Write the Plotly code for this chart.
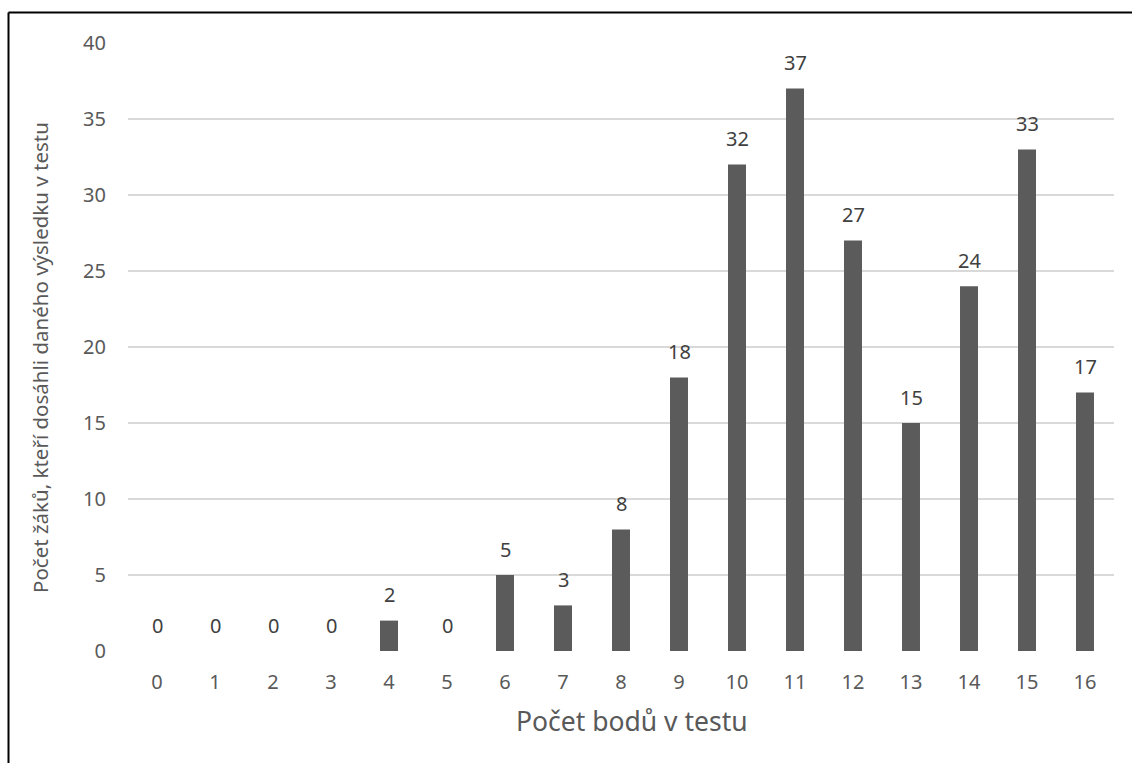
import plotly.graph_objects as go

# Score distribution: number of pupils for each test score
scores = list(range(17))
pupils = [0, 0, 0, 0, 2, 0, 5, 3, 8, 18, 32, 37, 27, 15, 24, 33, 17]
y_ticks = [0, 5, 10, 15, 20, 25, 30, 35, 40]

x_title = "Počet bodů v testu"
y_title = "Počet žáků, kteří dosáhli daného výsledku v testu"

W, H = 1132, 763
L, R, T, B = 128, 18, 43, 112

FONT = "Noto Sans"
TICK_COLOR = "#595959"
LABEL_COLOR = "#404040"

fig = go.Figure(
    go.Bar(
        x=scores,
        y=pupils,
        width=0.31,
        marker=dict(color="#5b5b5b", line=dict(width=0)),
        hoverinfo="x+y",
    )
)

# value labels above each bar
for s, v in zip(scores, pupils):
    fig.add_annotation(
        x=s, y=v, text=str(v), showarrow=False,
        yanchor="middle", yshift=26,
        font=dict(family=FONT, size=20, color=LABEL_COLOR),
    )


# helpers converting canvas pixels to paper coordinates
def px_x(p):
    return (p - L) / (W - L - R)


def px_y(p):
    return 1 - (p - T) / (H - T - B)


# axis titles, placed relative to the whole chart area
fig.add_annotation(
    xref="paper", yref="paper", x=px_x(632), y=px_y(721),
    text=x_title, showarrow=False, xanchor="center", yanchor="middle",
    font=dict(family=FONT, size=26.5, color=TICK_COLOR),
)
fig.add_annotation(
    xref="paper", yref="paper", x=px_x(40), y=px_y(358),
    text=y_title, showarrow=False, textangle=-90,
    xanchor="center", yanchor="middle",
    font=dict(family=FONT, size=20.5, color=TICK_COLOR),
)

# frame lines along the top and left edges of the canvas
fig.add_shape(type="line", xref="paper", yref="paper",
              x0=px_x(8.5), x1=px_x(W + 5), y0=px_y(12.5), y1=px_y(12.5),
              line=dict(color="black", width=2))
fig.add_shape(type="line", xref="paper", yref="paper",
              x0=px_x(8.5), x1=px_x(8.5), y0=px_y(12.5), y1=px_y(H + 5),
              line=dict(color="black", width=2))

fig.update_layout(
    width=W, height=H,
    margin=dict(l=L, r=R, t=T, b=B),
    paper_bgcolor="white",
    plot_bgcolor="white",
    showlegend=False,
    font=dict(family=FONT, size=20, color=TICK_COLOR),
    xaxis=dict(
        type="linear",
        range=[-0.5, 16.5],
        tickmode="array",
        tickvals=scores,
        ticktext=[str(s) for s in scores],
        showgrid=False,
        zeroline=False,
        showline=False,
        ticks="",
        ticklabelstandoff=17,
        tickfont=dict(family=FONT, size=20, color=TICK_COLOR),
    ),
    yaxis=dict(
        range=[0, 40],
        tickmode="array",
        tickvals=y_ticks,
        showgrid=True,
        gridcolor="#d9d9d9",
        gridwidth=1.5,
        zeroline=False,
        showline=False,
        ticks="",
        ticklabelstandoff=21,
        tickfont=dict(family=FONT, size=20, color=TICK_COLOR),
    ),
)

fig.write_html("out.html")
